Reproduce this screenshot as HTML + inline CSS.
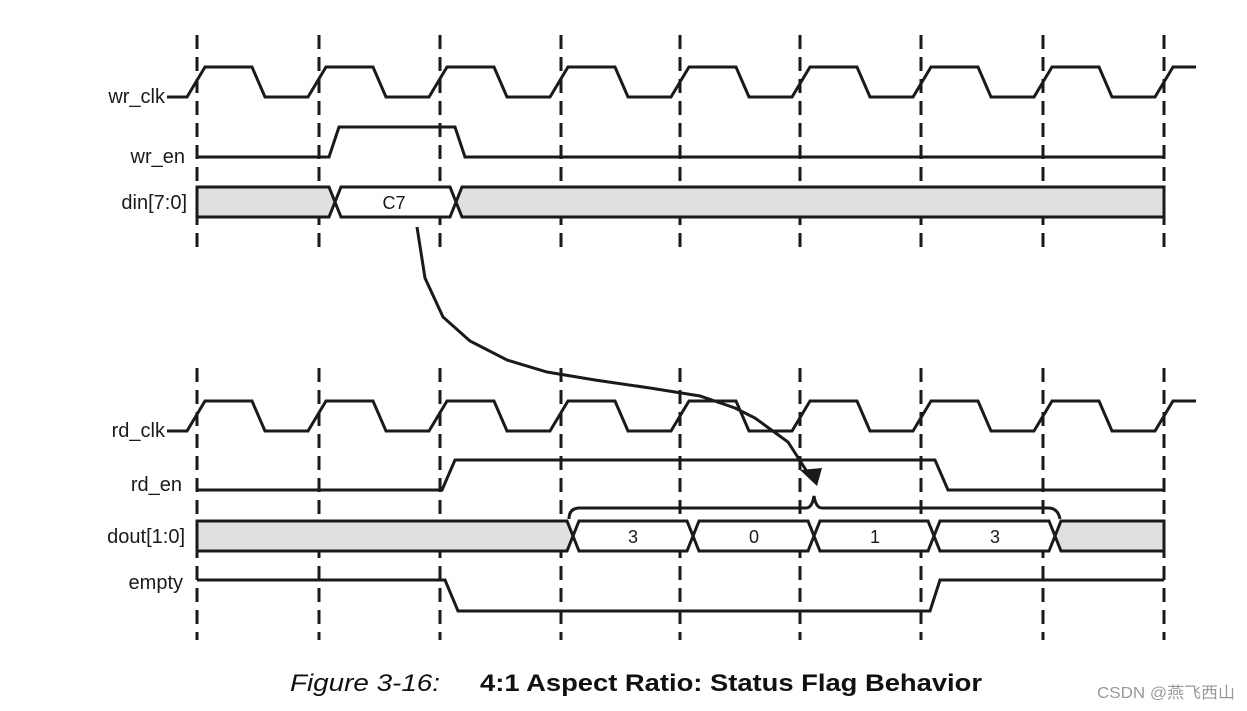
<!DOCTYPE html>
<html><head><meta charset="utf-8"><style>
html,body{margin:0;padding:0;background:#fff;}
svg{display:block;}
</style></head><body>
<svg width="1247" height="711" viewBox="0 0 1247 711" xmlns="http://www.w3.org/2000/svg">
<g stroke="#1a1a1a" stroke-width="3" stroke-dasharray="14,8" fill="none">
<line x1="197" y1="35" x2="197" y2="248"/><line x1="319" y1="35" x2="319" y2="248"/><line x1="440" y1="35" x2="440" y2="248"/><line x1="561" y1="35" x2="561" y2="248"/><line x1="680" y1="35" x2="680" y2="248"/><line x1="800" y1="35" x2="800" y2="248"/><line x1="921" y1="35" x2="921" y2="248"/><line x1="1043" y1="35" x2="1043" y2="248"/><line x1="1164" y1="35" x2="1164" y2="248"/>
<line x1="197" y1="368" x2="197" y2="640"/><line x1="319" y1="368" x2="319" y2="640"/><line x1="440" y1="368" x2="440" y2="640"/><line x1="561" y1="368" x2="561" y2="640"/><line x1="680" y1="368" x2="680" y2="640"/><line x1="800" y1="368" x2="800" y2="640"/><line x1="921" y1="368" x2="921" y2="640"/><line x1="1043" y1="368" x2="1043" y2="640"/><line x1="1164" y1="368" x2="1164" y2="640"/>
</g>
<g fill="#dfe0e1" stroke="#1a1a1a" stroke-width="3" stroke-linejoin="miter">
<polygon points="197,187 329,187 335,202 329,217 197,217"/>
<polygon points="456,202 462,187 1164,187 1164,217 462,217" />
<polygon points="197,521 567,521 573,536 567,551 197,551"/>
<polygon points="1055,536 1061,521 1164,521 1164,551 1061,551"/>
</g>
<g fill="#fff" stroke="#1a1a1a" stroke-width="3">
<polygon points="335,202 341,187 450,187 456,202 450,217 341,217"/>
<polygon points="573,536 579,521 687,521 693,536 687,551 579,551"/>
<polygon points="693,536 699,521 808,521 814,536 808,551 699,551"/>
<polygon points="814,536 820,521 928,521 934,536 928,551 820,551"/>
<polygon points="934,536 940,521 1049,521 1055,536 1049,551 940,551"/>
</g>
<g fill="none" stroke="#1a1a1a" stroke-width="3" stroke-linejoin="miter">
<path d="M167,97 L187,97 205,67 252,67 265,97 308,97 326,67 373,67 386,97 429,97 447,67 494,67 507,97 550,97 568,67 615,67 628,97 671,97 689,67 736,67 749,97 792,97 810,67 857,67 870,97 913,97 931,67 978,67 991,97 1034,97 1052,67 1099,67 1112,97 1155,97 1173,67 1196,67"/>
<path d="M167,431 L187,431 205,401 252,401 265,431 308,431 326,401 373,401 386,431 429,431 447,401 494,401 507,431 550,431 568,401 615,401 628,431 671,431 689,401 736,401 749,431 792,431 810,401 857,401 870,431 913,431 931,401 978,401 991,431 1034,431 1052,401 1099,401 1112,431 1155,431 1173,401 1196,401"/>
<path d="M197,157 L329,157 339,127 455,127 465,157 1164,157"/>
<path d="M197,490 L442,490 455,460 935,460 948,490 1164,490"/>
<path d="M197,580 L445,580 458,611 930,611 940,580 1164,580"/>
<path d="M569,519 Q569,508 580,508 L806,508 Q812,508 814,496 Q816,508 822,508 L1048,508 Q1058,508 1060,519"/>
<path d="M417,227 L425,278 443,317 470,341 507,360 547,372 595,380 650,388 700,396 735,408 755,418 788,442 806,470"/>
</g>
<polygon points="800,470 822,468 817,486" fill="#1a1a1a"/>
<g font-family="Liberation Sans, sans-serif" font-size="20" fill="#1a1a1a">
<text x="165" y="103" text-anchor="end">wr_clk</text>
<text x="185" y="163" text-anchor="end">wr_en</text>
<text x="187" y="209" text-anchor="end">din[7:0]</text>
<text x="165" y="437" text-anchor="end">rd_clk</text>
<text x="182" y="491" text-anchor="end">rd_en</text>
<text x="185" y="543" text-anchor="end">dout[1:0]</text>
<text x="183" y="589" text-anchor="end">empty</text>
</g>
<g font-family="Liberation Sans, sans-serif" font-size="18" fill="#1a1a1a" text-anchor="middle">
<text x="394" y="209">C7</text>
<text x="633" y="543">3</text>
<text x="754" y="543">0</text>
<text x="875" y="543">1</text>
<text x="995" y="543">3</text>
</g>
<text x="290" y="691" font-family="Liberation Sans, sans-serif" font-style="italic" font-size="24" fill="#111" textLength="150" lengthAdjust="spacingAndGlyphs">Figure 3-16:</text>
<text x="480" y="691" font-family="Liberation Sans, sans-serif" font-weight="bold" font-size="24" fill="#111" textLength="502" lengthAdjust="spacingAndGlyphs">4:1 Aspect Ratio: Status Flag Behavior</text>
<text x="1097" y="698" font-family="Liberation Sans, 'Noto Sans CJK SC', sans-serif" font-size="16" fill="#999" textLength="138" lengthAdjust="spacingAndGlyphs">CSDN @燕飞西山</text>
</svg>
</body></html>
